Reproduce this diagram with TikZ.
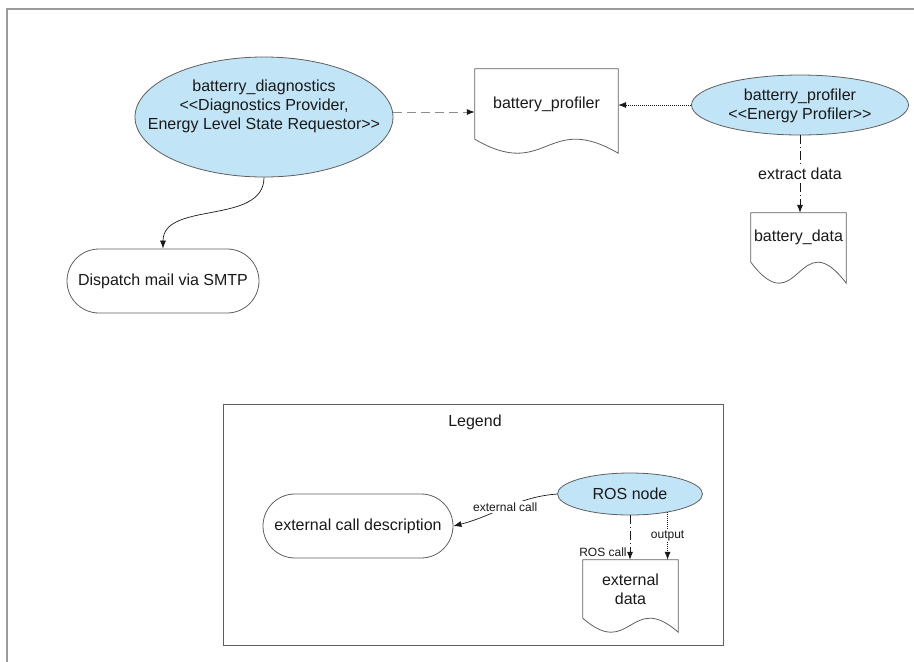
\documentclass[tikz,border=0pt]{standalone}
\usepackage{fontspec}
\setmainfont{Liberation Sans}[Ligatures=TeXOff]
\usetikzlibrary{shapes.geometric,arrows.meta}

\definecolor{nodeblue}{RGB}{193,228,247}
\definecolor{edgegray}{RGB}{95,95,95}
\definecolor{framegray}{RGB}{155,155,155}
\definecolor{dashgray}{RGB}{140,140,140}
\definecolor{inkcol}{RGB}{25,25,25}

% document outline: straight top and sides, wavy bottom edge
% #1 node, #2 drop of the right corner, #3/#4 control offsets
\newcommand\docoutline[4]{%
  \draw[docline] (#1.south west) -- (#1.north west) -- (#1.north east)
    -- ([yshift=-#2pt]#1.south east)
    .. controls ([yshift=#3pt]#1.south) and ([yshift=-#4pt]#1.south) .. (#1.south west) -- cycle;}

\begin{document}
\begin{tikzpicture}[x=1pt,y=-1pt,
  every node/.style={text=inkcol},
  big/.style={font=\fontsize{16}{19}\selectfont},
  small/.style={font=\fontsize{12}{14}\selectfont},
  rosnode/.style={ellipse, draw=edgegray, fill=nodeblue, line width=0.8pt, inner sep=0pt},
  terminal/.style={draw=edgegray, line width=0.8pt, rounded corners=32pt,
    minimum height=64pt, inner sep=0pt, big},
  docbox/.style={inner sep=0pt, align=center, big},
  docline/.style={draw=edgegray, line width=0.8pt},
  tip/.style={-{Latex[length=8pt,width=6pt,color=inkcol]}},
  callline/.style={tip, draw=inkcol, line width=0.7pt},
  dashline/.style={tip, draw=dashgray, line width=0.8pt, dash pattern=on 9pt off 5pt},
  dotline/.style={tip, draw=inkcol, line width=0.7pt, dash pattern=on 1pt off 1pt},
  dashdotline/.style={tip, draw=inkcol, line width=0.7pt, dash pattern=on 9pt off 3pt on 1pt off 3pt},
  legendframe/.style={draw=edgegray, line width=0.8pt, inner sep=0pt}
]
\useasboundingbox (0,0) rectangle (914,662);

% outer page frame
\draw[framegray, line width=1.5pt] (7,662) -- (7,9) -- (914,9);

% ---- main diagram ----
\node[rosnode, minimum width=258pt, minimum height=120pt] (diag) at (264,117) {};
\node[big, align=center] (diagtext) at (264,106)
  {batterry\_diagnostics\\<<Diagnostics Provider,\\Energy Level State Requestor>>};

\node[docbox, minimum width=143pt, minimum height=70pt] (bp) at (546.5,104) {battery\_profiler};
\docoutline{bp}{14}{28}{42}

\node[rosnode, minimum width=217pt, minimum height=60pt] (prof) at (800,105) {};
\node[big, align=center] (proftext) at (800,106) {batterry\_profiler\\<<Energy Profiler>>};

\node[docbox, minimum width=95pt, minimum height=49pt] (bd) at (798.5,237.5) {battery\_data};
\docoutline{bd}{21}{42}{63}

\node[terminal, minimum width=192pt] (disp) at (163,281) {Dispatch mail via SMTP};

\coordinate (bpin) at ([yshift=-8pt]bp.west);
\draw[dashline] (bpin -| diag.east) -- (bpin);
\draw[dotline] (prof.west) -- (prof.west -| bp.east);
\draw[dashdotline] (prof.south) -- (prof.south |- bd.north)
  node[midway, fill=white, big, inner sep=2pt] (extractlabel) {extract data};
\draw[callline] (diag.south) .. controls +(0,48) and +(0,-48) .. (disp.north);

% ---- legend ----
\node[legendframe, minimum width=500pt, minimum height=241pt] (legendbox) at (473,524.5) {};
\node[big] (legendtitle) at (475,422) {Legend};
\node[terminal, minimum width=190pt] (ecd) at (358,526) {external call description};
\node[rosnode, minimum width=145pt, minimum height=42pt, big] (ros) at (630,494) {ROS node};
\node[docbox, minimum width=95pt, minimum height=58pt] (ed) at (630.5,589) {external\\data};
\docoutline{ed}{14}{28}{42}

\draw[callline] (ros.west) .. controls +(-40,3) and +(40,-10) .. (ecd.east)
  node[pos=0.5, fill=white, small, inner sep=1.5pt] (extcalllabel) {external call};
\draw[dashdotline] (ros.south) -- (ros.south |- ed.north)
  node[pos=0.82, anchor=east, small, inner sep=3pt] (roscalllabel) {ROS call};
\draw[dotline] (ros.334) -- (ros.334 |- ed.north)
  node[pos=0.5, fill=white, small, inner sep=1pt] (outputlabel) {output};
\end{tikzpicture}
\end{document}
